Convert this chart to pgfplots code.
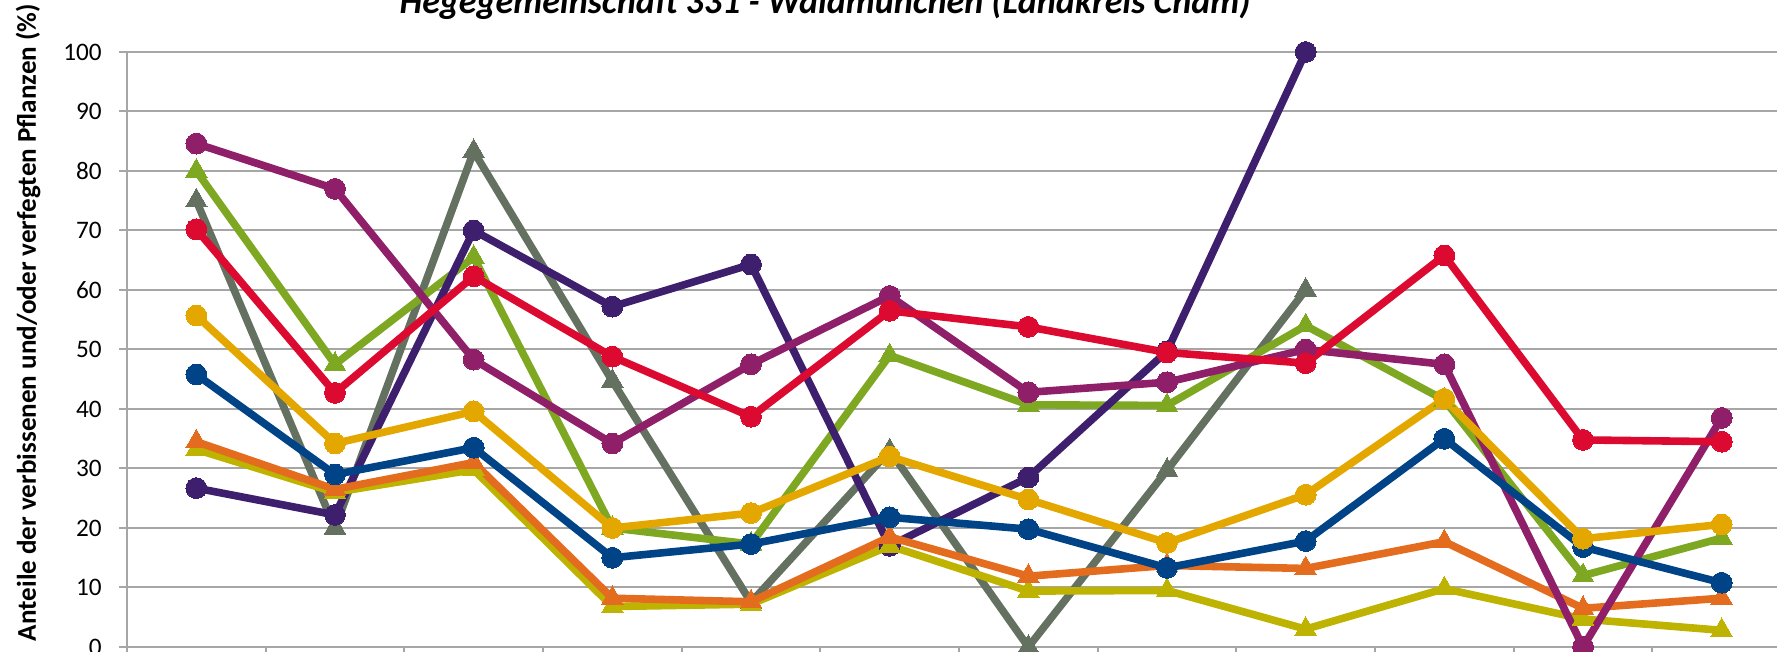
\documentclass[border=0pt]{standalone}
\usepackage{pgfplots}
\pgfplotsset{compat=1.18}
\usepackage{fontspec}
\setmainfont{Carlito}
\definecolor{cMag}{HTML}{8E1F68}
\definecolor{cGreen}{HTML}{7FA822}
\definecolor{cGray}{HTML}{647060}
\definecolor{cRed}{HTML}{DC0A30}
\definecolor{cPurp}{HTML}{3E1F6E}
\definecolor{cYel}{HTML}{E4A700}
\definecolor{cBlue}{HTML}{004487}
\definecolor{cOra}{HTML}{E46C1E}
\definecolor{cOli}{HTML}{BDB300}
\definecolor{cGrid}{HTML}{A6A6A6}
\begin{document}
\begin{tikzpicture}
\useasboundingbox (-63.5pt,-2.5pt) rectangle (825pt,323.5pt);
\clip (-63.5pt,-2.5pt) rectangle (825pt,323.5pt);
\begin{axis}[
  at={(0pt,0pt)}, anchor=south west,
  scale only axis, width=832pt, height=297.5pt,
  xmin=0.5, xmax=12.5, ymin=0, ymax=100,
  clip=false,
  axis line style={draw=cGrid, line width=1pt},
  axis x line*=bottom, axis y line*=left,
  xtick={0.5,1.5,...,12.5}, xticklabels={},
  ytick={0,10,...,100},
  ymajorgrids, grid style={cGrid, line width=1pt},
  tick align=outside, major tick length=4pt,
  tick style={cGrid, line width=1pt},
  yticklabel style={font=\fontsize{12.6}{14}\selectfont, inner sep=0pt, anchor=east, xshift=-8.5pt},
  /pgf/number format/assume math mode=true,
  every axis plot/.append style={line width=3.8pt, line join=round},
  circ/.style={mark=*, mark size=5.2pt, mark options={line width=0pt}},
  tri/.style={mark=triangle*, mark size=6.2pt, mark options={line width=0pt}},
]
% gray
\addplot[cGray, tri] coordinates {(1,75) (2,20) (3,83.3) (4,44.7) (5,7.5) (6,33) (7,0) (8,29.7) (9,60)};
% green
\addplot[cGreen, tri] coordinates {(1,80) (2,47.5) (3,65.5) (4,20) (5,17.3) (6,49) (7,40.7) (8,40.6) (9,54) (10,41.5) (11,12) (12,18.3)};
% dark purple
\addplot[cPurp, circ] coordinates {(1,26.7) (2,22.2) (3,70) (4,57.2) (5,64.3) (6,17) (7,28.5) (8,49.7) (9,100)};
% olive
\addplot[cOli, tri] coordinates {(1,33.2) (2,26) (3,29.8) (4,6.8) (5,7.2) (6,17) (7,9.4) (8,9.5) (9,3) (10,9.8) (11,4.7) (12,2.8)};
% orange
\addplot[cOra, tri] coordinates {(1,34.5) (2,26.5) (3,31) (4,8.2) (5,7.6) (6,18.5) (7,11.9) (8,13.7) (9,13.2) (10,17.7) (11,6.5) (12,8.2)};
% magenta
\addplot[cMag, circ] coordinates {(1,84.6) (2,77) (3,48.3) (4,34.2) (5,47.5) (6,59) (7,42.8) (8,44.5) (9,50) (10,47.5) (11,0) (12,38.5)};
% blue
\addplot[cBlue, circ] coordinates {(1,45.8) (2,29) (3,33.5) (4,15) (5,17.3) (6,21.8) (7,19.8) (8,13.3) (9,17.8) (10,35) (11,16.8) (12,10.8)};
% yellow
\addplot[cYel, circ] coordinates {(1,55.7) (2,34.2) (3,39.6) (4,20) (5,22.5) (6,32) (7,24.8) (8,17.5) (9,25.6) (10,41.7) (11,18.2) (12,20.6)};
% red
\addplot[cRed, circ] coordinates {(1,70.2) (2,42.7) (3,62.3) (4,48.8) (5,38.7) (6,56.5) (7,53.8) (8,49.5) (9,47.7) (10,65.8) (11,34.8) (12,34.5)};
\end{axis}
\node[anchor=base, font=\fontsize{18}{20}\selectfont\bfseries\itshape] at (349pt,316.5pt) {Hegegemeinschaft 331 - Waldmünchen (Landkreis Cham)};
\node[rotate=90, anchor=base, font=\fontsize{13.55}{15}\selectfont\bfseries] at (-45.5pt,162.25pt) {Anteile der verbissenen und/oder verfegten Pflanzen (\%)};
\end{tikzpicture}
\end{document}
